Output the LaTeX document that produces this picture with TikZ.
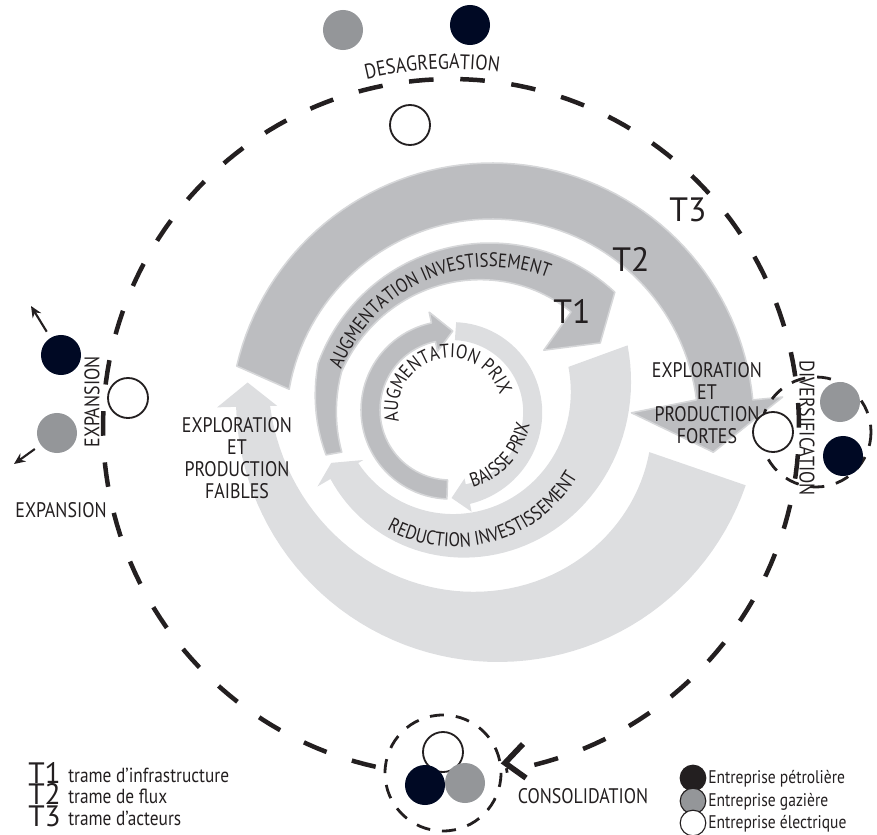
\documentclass[tikz,border=0pt]{standalone}
\usepackage{fontspec}
\setmainfont{PT Sans}[FakeStretch=0.85]
\newfontfamily\tfamily{PT Sans}
\usetikzlibrary{arrows.meta,decorations.text,positioning}

\definecolor{bandDark}{RGB}{188,189,192}
\definecolor{bandLight}{RGB}{221,222,224}
\definecolor{bandEdge}{RGB}{214,215,217}
\definecolor{oilNavy}{RGB}{0,9,36}
\definecolor{gasGray}{RGB}{148,150,153}
\definecolor{inkBlack}{RGB}{35,31,32}

\newcommand{\lblfont}{\fontsize{15}{15.8}\selectfont}
\newcommand{\arcfont}{\fontsize{14}{16}\selectfont}
\newcommand{\tfont}{\tfamily\fontsize{24}{28}\selectfont}
\newcommand{\keytfont}{\tfamily\fontsize{21}{22}\selectfont}

\tikzset{
  darkband/.style={fill=bandDark, draw=bandEdge, line width=1.1pt, line join=round},
  lightband/.style={fill=bandLight},
  firm/.style={circle, minimum size=1cm, inner sep=0pt},
  oil/.style={firm, fill=oilNavy},
  gas/.style={firm, fill=gasGray},
  elec/.style={firm, fill=white, draw=inkBlack, line width=1.3pt},
  keyfirm/.style={circle, minimum size=0.64cm, inner sep=0pt, draw=inkBlack, line width=0.8pt},
  cycledash/.style={inkBlack, line width=3.2pt, dash pattern=on 17.5pt off 19pt},
  groupdash/.style={inkBlack, line width=2pt, dash pattern=on 10pt off 8.5pt},
  lbl/.style={text=inkBlack, font=\lblfont, align=center, inner sep=0pt},
  keytxt/.style={text=inkBlack, inner sep=0pt, anchor=base west},
  arclbl/.style={decorate, decoration={text along path, text align=center, text color=inkBlack}},
  expandarrow/.style={inkBlack, line width=1.5pt, -{Stealth[length=8pt,width=7pt]}, shorten <=5pt},
}

\begin{document}
\begin{tikzpicture}[x=0.025cm, y=-0.025cm]
  \useasboundingbox (0,0) rectangle (877,835);

  % light spirals
  \begin{scope}[shift={(498,400)}]
    \fill[lightband] plot[domain=19:178.5, samples=60] (\x:262) -- (178.5:281) -- (184:251) -- (178.5:221)
      -- plot[domain=178.5:19, samples=60] (\x:{160+68*(\x-19)/159.5}) -- cycle;
  \end{scope}
  \begin{scope}[shift={(450,410)}]
    \fill[lightband] plot[domain=-20:150, samples=60] (\x:{189-0.5317*(\x+20)+0.1363*((\x+20)/10)^2})
      -- (150:153) -- (156:130) -- (150:100)
      -- plot[domain=150:-20, samples=60] (\x:{126-0.351*(\x+20)+0.1373*((\x+20)/10)^2}) -- cycle;
    \fill[lightband] plot[domain=274:438, samples=50] (\x:{88+8*(\x-274)/164})
      -- (438:104) -- (449:88) -- (438:70)
      -- plot[domain=438:274, samples=50] (\x:{70+6*(\x-274)/164}) -- cycle;
    % inner dark ring
    \filldraw[darkband] plot[domain=92:258, samples=50] (\x:89) -- (258:100) -- (272:79) -- (258:60)
      -- plot[domain=258:92, samples=50] (\x:70) -- cycle;
  \end{scope}

  % dark spirals
  \begin{scope}[shift={(492,425)}]
    \filldraw[darkband] plot[domain=193:354.5, samples=70] (\x:262) -- (354.5:292) -- (7:223) -- (355:140) -- (353:206)
      -- plot[domain=353:190, samples=70] (\x:206) -- cycle;
  \end{scope}
  \begin{scope}[shift={(490,426)}]
    \filldraw[darkband] plot[domain=170:200, samples=12] (\x:{183-0.55*(200-\x)})
      -- plot[domain=200:313, samples=50] (\x:183) -- (323:138) -- (305.4:93) -- (305.4:140)
      -- plot[domain=305.4:200, samples=50] (\x:{158-18*(\x-200)/105})
      -- plot[domain=200:170, samples=12] (\x:{158-0.25*(200-\x)}) -- cycle;
    \path[arclbl, decoration={text={|\arcfont|AUGMENTATION INVESTISSEMENT}}]
      (196:159) arc[start angle=-196, end angle=-296, radius=3.975cm];
  \end{scope}

  % text on the rings
  \begin{scope}[shift={(450,410)}]
    \path[arclbl, decoration={text={|\arcfont|AUGMENTATION PRIX}}]
      (165:52) arc[start angle=-165, end angle=-346, radius=1.3cm];
    \path[arclbl, decoration={text={|\arcfont|BAISSE PRIX}}]
      (86:81) arc[start angle=-86, end angle=2, radius=2.025cm];
  \end{scope}
  \begin{scope}[shift={(455,405)}]
    \path[arclbl, decoration={text={|\arcfont|REDUCTION INVESTISSEMENT}}]
      (128:142) arc[start angle=-128, end angle=-21, radius=3.55cm];
  \end{scope}

  \node[lbl] (fortes) at (707,403) {EXPLORATION\\ET\\PRODUCTION\\FORTES};
  \node[lbl] (faibles) at (237,458) {EXPLORATION\\ET\\PRODUCTION\\FAIBLES};
  \node[lbl, font=\tfont] (t1) at (572,311) {T1};
  \node[lbl, font=\tfont] (t2) at (631,259) {T2};
  \node[lbl, font=\tfont] (t3) at (688,210) {T3};

  % cycle of the actors
  \begin{scope}[shift={(451,427)}]
    \draw[cycledash] plot[domain=102.5:441, samples=200] (\x:348);
    \path[arclbl, decoration={text={|\lblfont|DESAGREGATION}}]
      (247:358) arc[start angle=-247, end angle=-287, radius=8.95cm];
  \end{scope}
  \draw[inkBlack, line width=4pt] (523,744) -- (505,763) -- (526,778);

  % desagregation
  \node[gas] (gasTop) at (343,30) {};
  \node[oil] (oilTop) at (470,25) {};
  \node[elec] (elecTop) at (410,125) {};

  % expansion
  \node[oil] (oilLeft) at (61,355) {};
  \node[gas] (gasLeft) at (57,433) {};
  \node[elec] (elecLeft) at (128,398) {};
  \coordinate (oilAway) at (31,306);
  \coordinate (gasAway) at (14,464);
  \draw[expandarrow] (oilLeft) -- (oilAway);
  \draw[expandarrow] (gasLeft) -- (gasAway);
  \node[lbl, rotate=90] (expV) at (92,402) {EXPANSION};
  \node[lbl] (expH) at (61,510) {EXPANSION};

  % diversification
  \draw[groupdash] (816,432) circle[radius=55];
  \node[gas] (gasRight) at (840,402) {};
  \node[oil] (oilRight) at (843,456) {};
  \node[elec] (elecRight) at (773,432) {};
  \node[lbl, rotate=-90] (divers) at (807,428) {DIVERSIFICATION};

  % consolidation
  \draw[groupdash] (443,773) circle[radius=58];
  \node[elec] (elecBottom) at (443,752) {};
  \node[oil] (oilBottom) at (425,785) {};
  \node[gas] (gasBottom) at (465,783) {};
  \node[lbl] (consol) at (583,796) {CONSOLIDATION};

  % legend
  \node[keytxt, font=\keytfont] (keyT1) at (28,783) {T1};
  \node[keytxt, font=\keytfont] (keyT2) at (28,804.5) {T2};
  \node[keytxt, font=\keytfont] (keyT3) at (28,826) {T3};
  \node[keytxt, font=\fontsize{14.5}{16}\selectfont] (keyT1txt) at (68,782) {trame d'infrastructure};
  \node[keytxt, font=\fontsize{14.5}{16}\selectfont] (keyT2txt) at (68,803.5) {trame de flux};
  \node[keytxt, font=\fontsize{14.5}{16}\selectfont] (keyT3txt) at (68,825) {trame d'acteurs};
  \node[keyfirm, fill=inkBlack] (keyOil) at (693,778) {};
  \node[keyfirm, fill=gasGray] (keyGas) at (693,801) {};
  \node[keyfirm, fill=white] (keyElec) at (693,823) {};
  \node[keytxt, font=\fontsize{13}{15}\selectfont] (keyOiltxt) at (708,783) {Entreprise pétrolière};
  \node[keytxt, font=\fontsize{13}{15}\selectfont] (keyGastxt) at (708,806) {Entreprise gazière};
  \node[keytxt, font=\fontsize{13}{15}\selectfont] (keyElectxt) at (708,828) {Entreprise électrique};
\end{tikzpicture}
\end{document}
